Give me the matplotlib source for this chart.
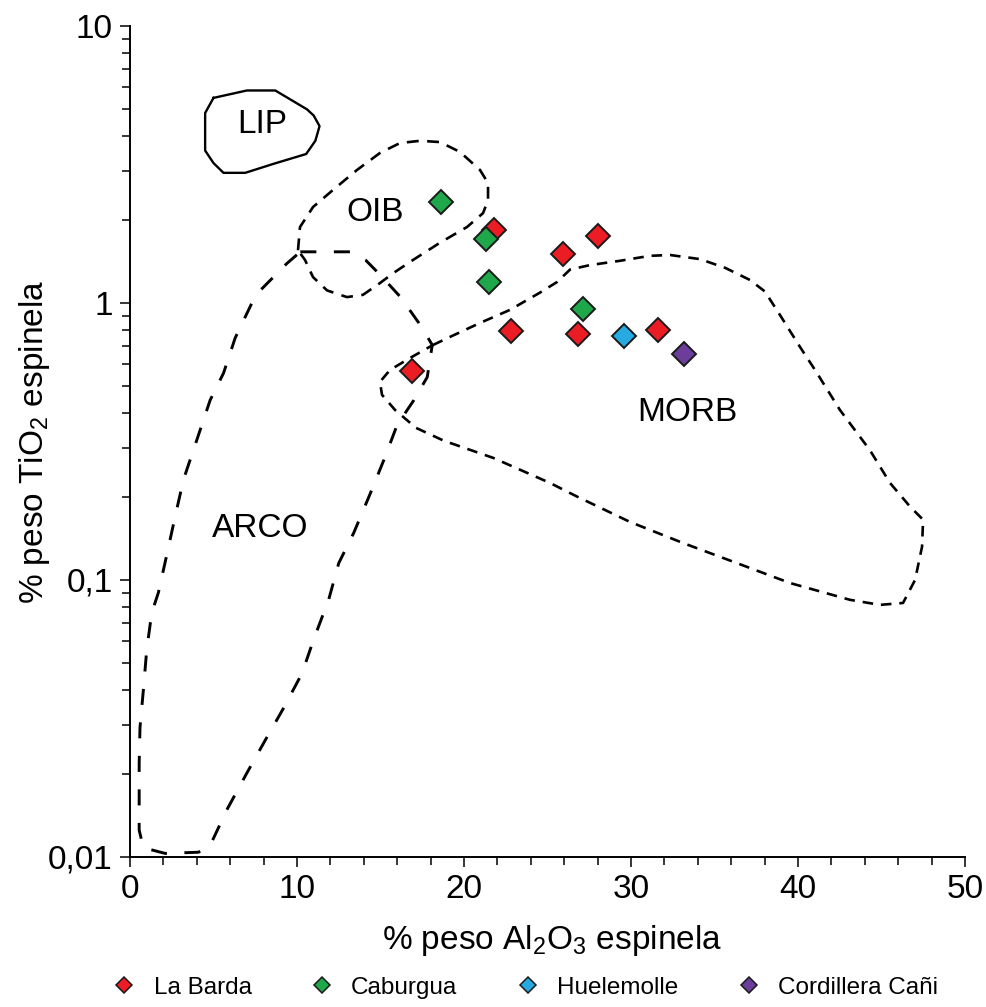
import numpy as np
import matplotlib
matplotlib.use("Agg")
import matplotlib.pyplot as plt
from matplotlib.lines import Line2D
from matplotlib.ticker import FixedLocator, FixedFormatter, LogLocator, MultipleLocator, NullFormatter

plt.rcParams["font.family"] = ["Liberation Sans", "DejaVu Sans"]
plt.rcParams["mathtext.default"] = "regular"

# ---- spinel data (% Al2O3, % TiO2) ----
la_barda_x = [21.8, 25.9, 28.0, 22.8, 26.8, 31.6, 16.9]
la_barda_y = [1.83, 1.50, 1.75, 0.79, 0.77, 0.80, 0.57]
caburgua_x = [18.6, 21.3, 21.5, 27.1]
caburgua_y = [2.32, 1.70, 1.19, 0.95]
huelemolle_x = [29.6]
huelemolle_y = [0.76]
cani_x = [33.2]
cani_y = [0.655]

series_names = ["La Barda", "Caburgua", "Huelemolle", "Cordillera Cañi"]
series_colors = ["#ec1c24", "#1fa84a", "#27aae1", "#6d3d9c"]

# ---- tectonic setting fields ----
lip_x = [5.0, 7.0, 8.7, 10.6, 11.0, 11.35, 11.1, 10.55, 8.6, 6.9, 5.6, 5.0, 4.5, 4.5, 5.0]
lip_y = [5.5, 5.85, 5.85, 5.0, 4.75, 4.35, 3.85, 3.45, 3.18, 2.95, 2.95, 3.2, 3.55, 4.85, 5.5]

oib_x = [10.06, 10.18, 10.96, 12.16, 13.59, 14.97, 16.17, 17.37, 18.56, 19.76, 20.96,
         21.44, 21.44, 21.14, 20.18, 18.56, 16.95, 15.75, 14.97, 13.95, 12.99, 11.80,
         10.96, 10.48, 10.06]
oib_y = [1.55, 1.88, 2.22, 2.56, 3.02, 3.48, 3.78, 3.85, 3.81, 3.51, 3.02,
         2.71, 2.35, 2.11, 1.88, 1.65, 1.43, 1.28, 1.18, 1.07, 1.05, 1.11,
         1.24, 1.43, 1.55]

arco_x = [10.2, 13.2, 14.1, 15.0, 16.2, 17.4, 18.1, 17.8, 17.0, 16.0, 15.2, 14.4, 13.4,
          12.5, 11.9, 11.0, 10.3, 9.2, 8.1, 7.0, 5.8, 4.8, 4.1, 2.1, 0.8, 0.55, 0.55,
          0.6, 0.8, 1.0, 1.3, 1.7, 2.2, 2.7, 3.2, 3.9, 4.8, 5.6, 6.3, 7.3, 7.8, 8.7,
          9.4, 10.2]
arco_y = [1.53, 1.53, 1.43, 1.26, 1.05, 0.83, 0.705, 0.54, 0.446, 0.363, 0.271, 0.206,
          0.148, 0.115, 0.085, 0.061, 0.046, 0.0345, 0.0264, 0.0201, 0.0148, 0.011,
          0.0104, 0.0103, 0.0108, 0.0125, 0.0218, 0.0294, 0.040, 0.0558, 0.076, 0.09,
          0.123, 0.169, 0.23, 0.307, 0.446, 0.558, 0.748, 1.0, 1.11, 1.26, 1.39, 1.53]

morb_x = [18.14, 19.16, 20.96, 22.75, 24.55, 25.57, 26.35, 27.54, 29.34, 31.14, 32.34,
          34.13, 35.63, 37.13, 38.02, 38.92, 40.12, 41.02, 42.51, 44.31, 45.51, 46.71,
          47.49, 47.43, 47.01, 46.29, 44.91, 43.11, 39.52, 36.35, 33.11, 29.94, 26.77,
          25.15, 21.74, 18.80, 17.13, 15.87, 15.09, 14.97, 15.57, 16.77, 18.14]
morb_y = [0.705, 0.754, 0.847, 0.944, 1.09, 1.19, 1.32, 1.37, 1.42, 1.48, 1.49,
          1.44, 1.34, 1.21, 1.10, 0.905, 0.694, 0.573, 0.411, 0.294, 0.224, 0.184,
          0.165, 0.132, 0.100, 0.0826, 0.0813, 0.0848, 0.0975, 0.115, 0.136, 0.162,
          0.200, 0.224, 0.276, 0.318, 0.354, 0.411, 0.466, 0.519, 0.573, 0.633, 0.705]

field_labels = ["LIP", "OIB", "MORB", "ARCO"]
field_label_x = [7.9, 14.7, 33.4, 7.8]
field_label_y = [4.40, 2.13, 0.404, 0.154]

x_ticks = [0, 10, 20, 30, 40, 50]
y_ticks = [0.01, 0.1, 1, 10]
y_tick_labels = ["0,01", "0,1", "1", "10"]

fig = plt.figure(figsize=(9.87, 10.07), dpi=100)
ax = fig.add_axes([0.1317, 0.149, 0.846, 0.8252])

ax.plot(lip_x, lip_y, color="k", lw=1.7, solid_joinstyle="round")
ax.plot(oib_x, oib_y, color="k", lw=1.9, linestyle=(0, (4.5, 3.2)))
ax.plot(arco_x, arco_y, color="k", lw=2.1, linestyle=(0, (5.5, 6.0)))
ax.plot(morb_x, morb_y, color="k", lw=1.9, linestyle=(0, (4.0, 3.0)))

series = [(la_barda_x, la_barda_y), (caburgua_x, caburgua_y),
          (huelemolle_x, huelemolle_y), (cani_x, cani_y)]
for (xs, ys), name, col in zip(series, series_names, series_colors):
    ax.plot(xs, ys, linestyle="none", marker="D", ms=12, mfc=col,
            mec="#1a1a1a", mew=1.4, zorder=5, label=name)

for lab, lx, ly in zip(field_labels, field_label_x, field_label_y):
    ax.text(lx, ly, lab, fontsize=24, ha="center", va="center")

ax.set_yscale("log")
ax.set_xlim(0, 50)
ax.set_ylim(0.01, 10)

ax.xaxis.set_major_locator(FixedLocator(x_ticks))
ax.xaxis.set_minor_locator(MultipleLocator(2))
ax.yaxis.set_major_locator(FixedLocator(y_ticks))
ax.yaxis.set_major_formatter(FixedFormatter(y_tick_labels))
ax.yaxis.set_minor_locator(LogLocator(base=10, subs=np.arange(2, 10)))
ax.yaxis.set_minor_formatter(NullFormatter())

for side in ["top", "right"]:
    ax.spines[side].set_visible(False)
for side in ["left", "bottom"]:
    ax.spines[side].set_linewidth(1.4)

ax.tick_params(which="major", direction="out", length=7.5, width=1.1, labelsize=24, pad=5)
ax.tick_params(which="minor", direction="out", length=5.5, width=1.1)

ax.set_xlabel(r"% peso Al$_2$O$_3$ espinela", fontsize=24)
ax.set_ylabel(r"% peso TiO$_2$ espinela", fontsize=24)
ax.xaxis.set_label_coords(0.505, -0.08)
ax.yaxis.set_label_coords(-0.093, 0.5)

handles = [Line2D([], [], linestyle="none", marker="D", ms=8.5, mfc=c, mec="#1a1a1a", mew=1.1)
           for c in series_colors]
fig.legend(handles, series_names, loc="center", bbox_to_anchor=(0.532, 0.019), ncol=4,
           frameon=False, fontsize=17.5, handlelength=1.0, handletextpad=0.7,
           columnspacing=2.4, borderpad=0)

fig.savefig("out.png", dpi=100)
